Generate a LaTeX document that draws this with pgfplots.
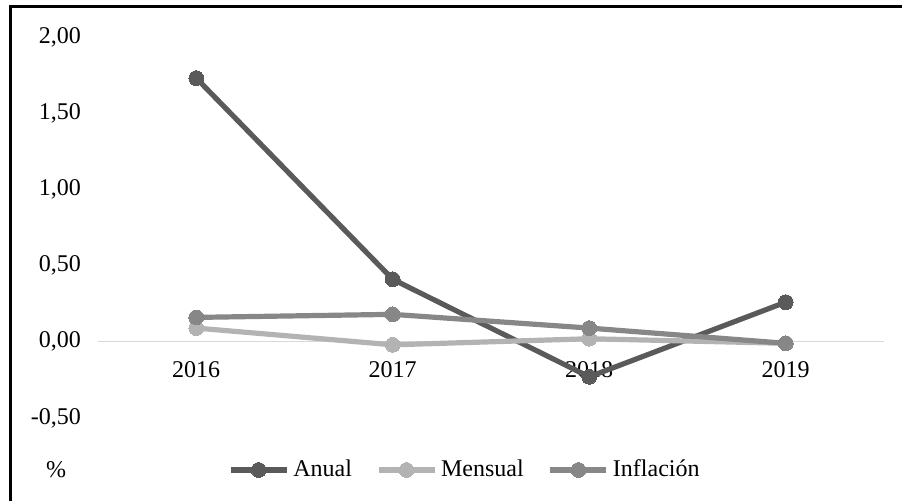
\documentclass[border=0pt]{standalone}
\usepackage{pgfplots}
\pgfplotsset{compat=1.18}
\usepackage{fontspec}
\setmainfont{Liberation Serif}
\definecolor{anual}{HTML}{5A5A5A}
\definecolor{mensual}{HTML}{B3B3B3}
\definecolor{infla}{HTML}{878787}
\definecolor{zero}{HTML}{D9D9D9}
\begin{document}
\begin{tikzpicture}[font=\fontsize{12}{14}\selectfont]
\useasboundingbox (0,0) rectangle (451pt,250.5pt);
\begin{scope}
\clip (0,0) rectangle (451pt,250.5pt);
\draw[line width=1.2pt,black] (5.3pt,-20pt) -- (5.3pt,247.3pt) -- (470pt,247.3pt);
\end{scope}
\begin{axis}[
  at={(49pt,41.5pt)}, anchor=south west,
  scale only axis, width=393pt, height=190.5pt,
  xmin=-0.5, xmax=3.5, ymin=-0.5, ymax=2.0,
  axis x line=middle, axis y line=left,
  x axis line style={draw=zero, line width=0.6pt, -},
  y axis line style={draw=none},
  hide obscured x ticks=false, hide obscured y ticks=false,
  major tick length=0pt,
  xtick={0,1,2,3}, xticklabels={2016,2017,2018,2019},
  ytick={-0.5,0,0.5,1,1.5,2},
  yticklabels={{-0,50},{0,00},{0,50},{1,00},{1,50},{2,00}},
  xticklabel style={anchor=north, yshift=-6.5pt, font=\fontsize{12}{14}\selectfont},
  yticklabel style={anchor=east, xshift=-5pt, font=\fontsize{12}{14}\selectfont},
  clip=false,
  legend columns=3,
  legend style={at={(0.468,0)}, anchor=center, yshift=-26pt, draw=none, fill=none,
    font=\fontsize{12}{14}\selectfont, inner sep=0pt,
    /tikz/every odd column/.append style={column sep=0pt},
    /tikz/every even column/.append style={column sep=10pt}},
  legend image code/.code={\draw[mark repeat=2,mark phase=2,line width=2.6pt,#1] plot coordinates {(0pt,0pt) (14pt,0pt) (28pt,0pt)};},
  every axis plot/.append style={line width=2.6pt, mark=*, mark size=3.7pt},
]
\addplot[color=anual, mark options={fill=anual, draw=anual, line width=0pt}] coordinates {(0,1.73) (1,0.41) (2,-0.23) (3,0.26)};
\addlegendentry{Anual}
\addplot[color=mensual, mark options={fill=mensual, draw=mensual, line width=0pt}] coordinates {(0,0.09) (1,-0.02) (2,0.02) (3,-0.01)};
\addlegendentry{Mensual}
\addplot[color=infla, mark options={fill=infla, draw=infla, line width=0pt}] coordinates {(0,0.16) (1,0.18) (2,0.09) (3,-0.01)};
\addlegendentry{Inflación}
\end{axis}
\node at (28pt,15.5pt) {\%};
\end{tikzpicture}
\end{document}
